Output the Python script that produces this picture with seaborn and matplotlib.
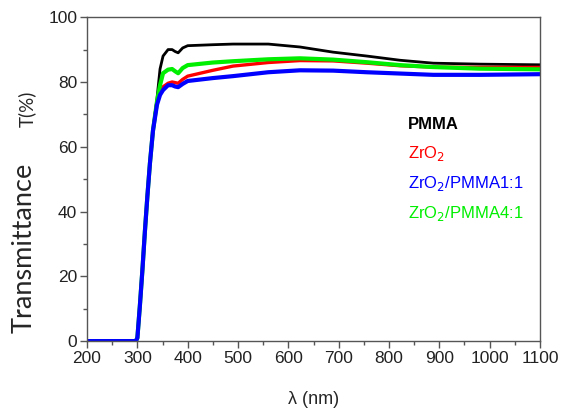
import matplotlib
matplotlib.use("Agg")
import matplotlib.pyplot as plt
from matplotlib.ticker import MultipleLocator
import seaborn as sns
import pandas as pd
import numpy as np

# wavelength grid (nm) and transmittance (%)
wavelength = [200, 250, 290, 297, 300, 305, 310, 315, 320, 325, 331, 339, 345, 351, 361,
              369, 375, 381, 390, 400, 450, 490, 560, 623, 689, 756, 822, 888, 981, 1100]
pmma = [0, 0, 0, 0, 1, 11, 22, 34, 45, 55, 65, 75, 84, 88, 90,
        90, 89.4, 89.0, 90.5, 91.2, 91.5, 91.7, 91.7, 90.8, 89.2, 88.0, 86.7, 85.8, 85.5, 85.3]
zro2 = [0, 0, 0, 0, 1, 11, 22, 34, 45, 55, 65, 74, 77, 78.5, 79.6,
        80, 79.8, 79.6, 80.8, 81.8, 83.6, 84.9, 86.0, 86.6, 86.5, 85.8, 85.0, 84.6, 84.5, 84.5]
zro2_pmma11 = [0, 0, 0, 0, 1, 11, 22, 34, 45, 55, 65, 73, 76, 77.5, 79,
               79, 78.6, 78.4, 79.4, 80.3, 81.2, 81.8, 83.0, 83.6, 83.5, 83.0, 82.6, 82.2, 82.2, 82.4]
zro2_pmma41 = [0, 0, 0, 0, 1, 11, 22, 34, 45, 55, 65, 74, 79, 82.7, 83.8,
               84, 83.3, 82.7, 84.3, 85.2, 86.0, 86.4, 87.0, 87.3, 86.9, 86.1, 85.2, 84.6, 84.1, 83.9]

series = ["PMMA", "ZrO2", "ZrO2/PMMA1:1", "ZrO2/PMMA4:1"]
labels = ["PMMA", "ZrO$_2$", "ZrO$_2$/PMMA1:1", "ZrO$_2$/PMMA4:1"]
colors = ["#000000", "#ff0000", "#0000ff", "#00ee00"]

df = pd.DataFrame({"wavelength": wavelength, "PMMA": pmma, "ZrO2": zro2,
                   "ZrO2/PMMA1:1": zro2_pmma11, "ZrO2/PMMA4:1": zro2_pmma41})
long_df = df.melt(id_vars="wavelength", var_name="sample", value_name="T")

sns.set_style("ticks")
plt.rcParams["font.family"] = ["Liberation Sans", "DejaVu Sans"]

fig = plt.figure(figsize=(5.69, 4.09), dpi=100)
ax = fig.add_axes([0.153, 0.166, 0.796, 0.792])

draw_order = ["PMMA", "ZrO2", "ZrO2/PMMA4:1", "ZrO2/PMMA1:1"]
widths = {"PMMA": 2.0, "ZrO2": 2.4, "ZrO2/PMMA4:1": 3.0, "ZrO2/PMMA1:1": 3.0}
for name in draw_order:
    sub = long_df[long_df["sample"] == name]
    sns.lineplot(data=sub, x="wavelength", y="T", ax=ax, color=colors[series.index(name)],
                 lw=widths[name], legend=False)

ax.set_xlim(200, 1100)
ax.set_ylim(0, 100)
ax.xaxis.set_major_locator(MultipleLocator(100))
ax.xaxis.set_minor_locator(MultipleLocator(50))
ax.yaxis.set_major_locator(MultipleLocator(20))
ax.yaxis.set_minor_locator(MultipleLocator(10))
ax.tick_params(which="major", direction="out", length=5, width=1, color="#555555",
               labelsize=12.5, labelcolor="#222222", pad=2)
ax.tick_params(which="minor", direction="out", length=3, width=1, color="#555555")
for sp in ax.spines.values():
    sp.set_color("#555555")
    sp.set_linewidth(1)

ax.set_xlabel("λ (nm)", fontsize=13, labelpad=18)
ax.set_ylabel("")
ax.text(-0.139, 0.287, "Transmittance", transform=ax.transAxes, rotation=90,
        fontsize=19.5, ha="center", va="center", family=["Lato", "DejaVu Sans"])
ax.text(-0.133, 0.716, "T(%)", transform=ax.transAxes, rotation=90,
        fontsize=13.5, ha="center", va="center", family=["Lato", "DejaVu Sans"])

label_y = [67, 58, 48.8, 39.5]
for lab, c, yy in zip(labels, colors, label_y):
    ax.text(838, yy, lab, color=c, fontsize=12, ha="left", va="center",
            fontweight="bold" if lab == "PMMA" else "normal")

fig.savefig("out.png", dpi=100)
